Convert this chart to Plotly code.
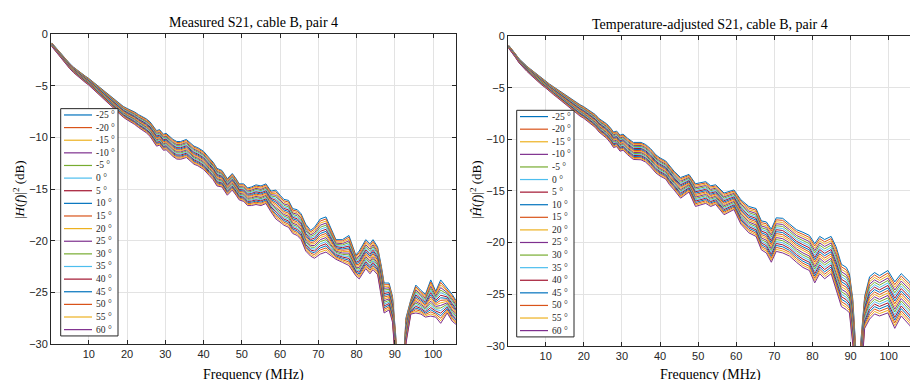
import plotly.graph_objects as go

# ---------------- data ----------------
temps = [-25, -20, -15, -10, -5, 0, 5, 10, 15, 20, 25, 30, 35, 40, 45, 50, 55, 60]
legend_labels = [f"{t} °" for t in temps]
colors = ['#0072BD', '#D95319', '#EDB120', '#7E2F8E', '#77AC30', '#4DBEEE', '#A2142F']

# Measured S21: frequency (MHz), upper curve (-25 deg) in dB, spread to lowest curve (60 deg) in dB
freq_meas = [0.3, 1, 2, 3, 4, 5, 6, 7, 8, 9, 10, 11, 12, 13, 14, 15, 16, 17, 18, 19, 20, 21, 22, 23, 24, 25, 26, 27,
             27.7, 28.5, 29.5, 30.2, 31, 32, 33, 34, 35.5, 36.5, 37.5, 38.5, 40, 41.5, 42.5, 43.5, 44.8, 46.2, 47.5,
             48.5, 49.3, 50.5, 51.5, 52.5, 53.7, 55, 56.3, 57.6, 58.9, 60, 61, 62.2, 63.3, 64.5, 65.5, 66.7, 68, 69,
             70.5, 72, 73, 74.6, 76.3, 78, 79.8, 80.7, 82.4, 83.5, 84.3, 85.5, 86.5, 87.2, 88.5, 89.4, 90.2, 91, 92,
             92.9, 94.2, 95.5, 96.8, 98, 99.4, 100.7, 102, 103.7, 105, 106]
top_meas = [-0.85, -1.15, -1.65, -2.1, -2.5, -2.85, -3.2, -3.5, -3.8, -4.05, -4.3, -4.6, -4.9, -5.2, -5.5, -5.8,
            -6.1, -6.45, -6.75, -7.0, -7.2, -7.35, -7.55, -7.8, -8.0, -8.2, -8.5, -9.0,
            -9.35, -9.25, -9.7, -9.6, -9.9, -10.2, -10.4, -10.4, -10.2, -10.5, -10.85, -11.0, -11.35, -12.0, -12.4,
            -13.0, -13.2, -14.0, -13.5, -14.0, -14.5, -14.5, -14.9, -14.8, -14.6, -14.7, -14.5, -15.2, -15.1, -15.6,
            -16.0, -16.1, -16.9, -17.0, -17.4, -18.4, -19.0, -18.7, -17.9, -17.7, -18.6, -19.9, -19.9, -19.5, -21.4,
            -21.0, -19.9, -20.3, -19.9, -20.6, -22.5, -24.1, -24.1, -25.4, -29.0, -34.0, -34.0, -27.5, -25.7, -24.3,
            -24.8, -25.2, -23.8, -24.9, -23.8, -24.6, -25.2, -25.8]
spread_meas = [0.35, 0.38, 0.4, 0.42, 0.45, 0.5, 0.53, 0.56, 0.6, 0.62, 0.65, 0.69, 0.73, 0.77, 0.81, 0.85, 0.9,
               0.95, 1.0, 1.05, 1.1, 1.15, 1.2, 1.25, 1.3, 1.35, 1.4, 1.45,
               1.5, 1.5, 1.55, 1.6, 1.62, 1.65, 1.7, 1.72, 1.75, 1.75, 1.75, 1.75, 1.75, 1.7, 1.7, 1.7, 1.6, 1.6,
               1.6, 1.6, 1.55, 1.7, 1.7, 1.8, 1.9, 1.9, 1.9, 2.0, 2.8, 2.6, 2.5, 2.6, 2.4, 2.5, 2.5, 2.6, 2.5, 3.0,
               3.4, 3.4, 2.8, 1.9, 2.2, 2.9, 2.0, 2.7, 2.8, 2.9, 2.9, 2.7, 3.0, 2.9, 2.6, 2.5, 3.0, 3.0, 3.0, 2.5,
               1.4, 2.7, 2.3, 2.2, 3.5, 2.5, 4.2, 2.4, 2.6, 2.3]

# Temperature-adjusted S21
freq_adj = [0.3, 1, 2, 3, 4, 5, 6, 7, 8, 9, 10, 11, 12, 13, 14, 15, 16, 17, 18, 19, 20, 21, 22, 23, 24, 25, 26, 27,
            27.8, 28.6, 29.5, 30.3, 31.5, 33, 34, 35, 36.2, 37.5, 38.9, 40, 41.5, 42.5, 43.7, 45.4, 47.6, 49.3, 52,
            53.3, 54.6, 56.8, 59.4, 61.2, 63.3, 65.2, 66.6, 67.9, 69.2, 70.5, 72.2, 74, 75.8, 77.5, 79.2, 80.6, 81.9,
            83.2, 84.9, 86.2, 87.6, 88.9, 89.7, 90.6, 91.2, 91.8, 92.6, 93.7, 95, 96.3, 97.6, 99.8, 101.6, 103.3,
            105.5, 106]
top_adj = [-0.9, -1.2, -1.7, -2.2, -2.6, -2.9, -3.2, -3.5, -3.8, -4.1, -4.35, -4.65, -4.9, -5.15, -5.4, -5.65,
           -5.9, -6.2, -6.45, -6.65, -6.85, -7.1, -7.35, -7.6, -8.0, -8.25, -8.5, -8.9,
           -9.3, -9.2, -9.6, -9.5, -9.9, -10.3, -10.3, -10.3, -10.5, -10.9, -11.5, -11.8, -12.1, -12.6, -13.1,
           -13.7, -13.4, -14.3, -14.1, -14.5, -14.4, -15.2, -14.9, -15.85, -16.5, -16.7, -17.9, -18.0, -18.7,
           -17.6, -17.65, -18.2, -18.75, -19.0, -19.3, -20.1, -19.4, -19.7, -19.4, -20.4, -22.1, -22.4, -23.0,
           -25.5, -30.0, -33.0, -30.0, -25.2, -23.3, -22.9, -23.2, -22.7, -23.8, -23.0, -23.8, -24.2]
spread_adj = [0.3, 0.32, 0.35, 0.4, 0.45, 0.5, 0.55, 0.6, 0.62, 0.65, 0.68, 0.72, 0.76, 0.8, 0.85, 0.9, 0.95, 1.0,
              1.05, 1.1, 1.12, 1.15, 1.2, 1.25, 1.3, 1.35, 1.4, 1.45,
              1.5, 1.5, 1.55, 1.55, 1.6, 1.65, 1.66, 1.68, 1.7, 1.75, 1.75, 1.75, 1.75, 1.8, 1.8, 2.0, 1.7, 2.2,
              2.1, 2.0, 1.9, 2.1, 1.9, 2.35, 2.55, 2.7, 2.8, 3.0, 3.2, 3.25, 3.35, 3.1, 3.15, 3.4, 3.4, 3.8, 3.6,
              3.8, 3.6, 4.2, 4.1, 4.1, 3.8, 4.4, 4.0, 3.0, 4.0, 3.1, 4.1, 4.0, 3.9, 4.1, 4.5, 4.1, 4.2, 4.1]

x_ticks = [10, 20, 30, 40, 50, 60, 70, 80, 90, 100]
y_ticks = [0, -5, -10, -15, -20, -25, -30]

# ---------------- figure ----------------
W, H = 910, 380
INK = '#262626'
GRID = '#e3e3e3'
SERIF = 'Liberation Serif, DejaVu Serif, serif'
SANS = 'Liberation Sans, Arial, sans-serif'

fig = go.Figure()

panels = [
    (freq_meas, top_meas, spread_meas, 'x', 'y'),
    (freq_adj, top_adj, spread_adj, 'x2', 'y2'),
]
t0, t1 = temps[0], temps[-1]
for freq, top, spread, xa, ya in panels:
    for i, t in enumerate(temps):
        w = (t - t0) / (t1 - t0)
        yv = [tp - w * s for tp, s in zip(top, spread)]
        fig.add_trace(go.Scatter(
            x=freq, y=yv, mode='lines', xaxis=xa, yaxis=ya,
            line=dict(color=colors[i % len(colors)], width=1),
            name=legend_labels[i], showlegend=False, hoverinfo='skip'))


def px(p):
    return p / W


def py(p):
    return 1 - p / H


axis_common = dict(showline=True, linecolor=INK, linewidth=1, ticks='inside', ticklen=4,
                   tickcolor=INK, showgrid=True, gridcolor=GRID, gridwidth=1, zeroline=False,
                   tickfont=dict(family=SANS, size=11, color=INK))

fig.update_layout(
    width=W, height=H, margin=dict(l=0, r=0, t=0, b=0),
    paper_bgcolor='white', plot_bgcolor='white', showlegend=False,
    xaxis=dict(domain=[px(51), px(456)], range=[0.1, 106], tickvals=x_ticks, mirror='ticks',
               anchor='y', **axis_common),
    yaxis=dict(domain=[py(349), py(29)], range=[-30, 0], tickvals=y_ticks, mirror='ticks',
               anchor='x', **axis_common),
    xaxis2=dict(domain=[px(508), 1.0], range=[0.1, 105.6], tickvals=x_ticks, mirror='ticks',
                anchor='y2', **axis_common),
    yaxis2=dict(domain=[py(351), py(31)], range=[-30, 0], tickvals=y_ticks, mirror=False,
                anchor='x2', **axis_common),
)

annotations = [
    dict(text='Measured S21, cable B, pair 4', x=px(253.5), y=py(17), xref='paper', yref='paper',
         showarrow=False, xanchor='center', yanchor='middle', font=dict(family=SERIF, size=14, color='black')),
    dict(text='Temperature-adjusted S21, cable B, pair 4', x=px(710), y=py(19), xref='paper', yref='paper',
         showarrow=False, xanchor='center', yanchor='middle', font=dict(family=SERIF, size=14, color='black')),
    dict(text='|<i>H</i>(<i>f</i>)|<sup>2</sup> (dB)', x=px(19), y=py(190), xref='paper', yref='paper',
         textangle=-90, showarrow=False, xanchor='center', yanchor='middle',
         font=dict(family=SERIF, size=13, color='black')),
    dict(text='|<i>Ĥ</i>(<i>f</i>)|<sup>2</sup> (dB)', x=px(476), y=py(190), xref='paper', yref='paper',
         textangle=-90, showarrow=False, xanchor='center', yanchor='middle',
         font=dict(family=SERIF, size=13, color='black')),
    dict(text='Frequency (MHz)', x=px(253.5), y=py(371), xref='paper', yref='paper',
         showarrow=False, xanchor='center', yanchor='top', font=dict(family=SERIF, size=14, color='black')),
    dict(text='Frequency (MHz)', x=px(710), y=py(371), xref='paper', yref='paper',
         showarrow=False, xanchor='center', yanchor='top', font=dict(family=SERIF, size=14, color='black')),
]

shapes = []
# manual legends (one per panel)
for (bx0, by0, bx1, by1) in [(60.7, 106, 118, 340.7), (516.7, 107.7, 574, 341.7)]:
    shapes.append(dict(type='rect', xref='paper', yref='paper', layer='above',
                       x0=px(bx0), x1=px(bx1), y0=py(by1), y1=py(by0),
                       line=dict(color=INK, width=1), fillcolor='white'))
    step = (by1 - by0) / len(temps)
    for i, lab in enumerate(legend_labels):
        yc = by0 + step * (i + 0.5)
        shapes.append(dict(type='line', xref='paper', yref='paper', layer='above',
                           x0=px(bx0 + 3.3), x1=px(bx0 + 31.3), y0=py(yc), y1=py(yc),
                           line=dict(color=colors[i % len(colors)], width=1.2)))
        annotations.append(dict(text=lab, x=px(bx0 + 33.5), y=py(yc), xref='paper', yref='paper',
                                showarrow=False, xanchor='left', yanchor='middle',
                                font=dict(family=SERIF, size=9.5, color=INK)))

fig.update_layout(annotations=annotations, shapes=shapes)
fig.write_html('out.html', config=dict(displayModeBar=False),
               post_script="document.body.style.margin='0';document.body.style.overflow='hidden';")
